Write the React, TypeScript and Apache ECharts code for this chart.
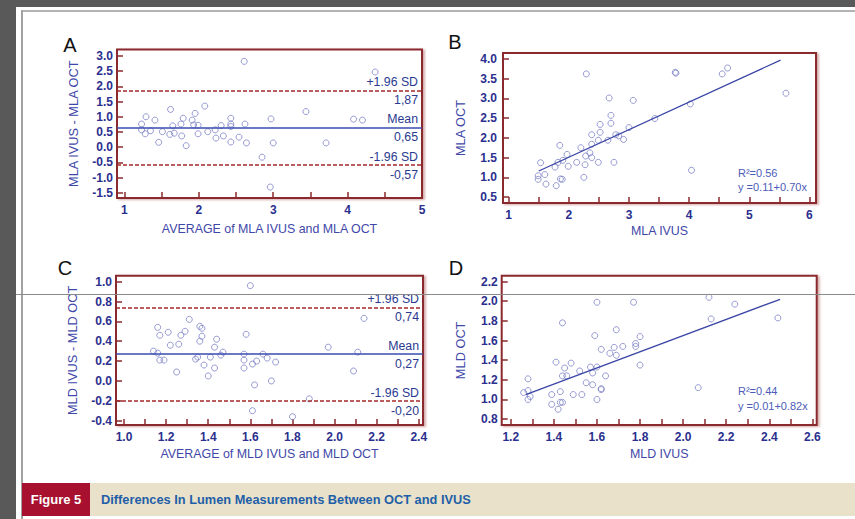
import React, { useEffect, useRef } from "react";
import * as echarts from "echarts";

// ---------- Panel A: Bland-Altman MLA ----------
const aPoints: [number, number][] = [
  [2.61, 2.82], [4.37, 2.47], [1.23, 0.76], [1.29, 1.0], [1.23, 0.57], [1.28, 0.44],
  [1.35, 0.54], [1.41, 0.89], [1.46, 0.16], [1.51, 0.51], [1.62, 1.24], [1.61, 0.42],
  [1.65, 0.7], [1.67, 0.46], [1.76, 0.76], [1.77, 0.37], [1.79, 0.95], [1.83, 0.05],
  [1.91, 0.89], [1.93, 0.73], [1.95, 1.11], [1.99, 0.72], [1.99, 0.44], [2.08, 1.35],
  [2.12, 0.51], [2.22, 0.57], [2.23, 0.3], [2.3, 0.71], [2.33, 0.37], [2.43, 0.95],
  [2.43, 0.76], [2.43, 0.68], [2.43, 0.17], [2.54, 0.33], [2.62, 0.76], [2.64, 0.14],
  [2.85, -0.33], [2.97, 0.93], [2.96, -1.31], [3.0, 0.14], [3.44, 1.17], [3.71, 0.14],
  [4.08, 0.92], [4.2, 0.89],
];
const aLimits = [1.87, 0.65, -0.57]; // +1.96 SD, mean, -1.96 SD
const aXTicks = [1, 1.5, 2, 2.5, 3, 3.5, 4, 4.5, 5];
const aXLabels = [1, 2, 3, 4, 5];
const aYTicks = [-1.5, -1, -0.5, 0, 0.5, 1, 1.5, 2, 2.5, 3];

// ---------- Panel B: MLA correlation ----------
const bPoints: [number, number][] = [
  [2.29, 3.62], [3.77, 3.66], [3.78, 3.64], [4.55, 3.62], [4.64, 3.77], [5.61, 3.13],
  [2.67, 3.01], [3.07, 2.95], [4.02, 2.86], [2.7, 2.57], [2.7, 2.37], [3.43, 2.49],
  [2.52, 2.34], [3.0, 2.26], [2.38, 2.08], [2.52, 2.14], [2.78, 2.08], [2.83, 2.05],
  [2.49, 1.94], [2.65, 1.94], [2.91, 1.96], [2.38, 1.84], [1.85, 1.81], [2.2, 1.75],
  [1.97, 1.58], [2.35, 1.62], [2.28, 1.54], [2.38, 1.5], [1.9, 1.43], [1.82, 1.38],
  [1.53, 1.37], [2.13, 1.38], [2.49, 1.38], [2.75, 1.38], [2.27, 1.32], [1.77, 1.26],
  [1.99, 1.28], [1.49, 1.04], [1.6, 1.07], [1.49, 0.95], [1.86, 0.96], [1.89, 0.95],
  [2.25, 1.0], [1.62, 0.83], [1.79, 0.79], [4.04, 1.18],
];
const bFit: [number, number][] = [[1.5, 1.16], [5.52, 3.97]];
const bStats = ["R²=0.56", "y =0.11+0.70x"];
const bXTicks = [1, 1.5, 2, 2.5, 3, 3.5, 4, 4.5, 5, 5.5, 6];
const bXLabels = [1, 2, 3, 4, 5, 6];
const bYTicks = [0.5, 1, 1.5, 2, 2.5, 3, 3.5, 4];

// ---------- Panel C: Bland-Altman MLD ----------
const cPoints: [number, number][] = [
  [1.6, 0.96], [1.16, 0.54], [1.17, 0.46], [1.21, 0.49], [1.14, 0.3], [1.16, 0.28],
  [1.17, 0.21], [1.19, 0.21], [1.22, 0.36], [1.25, 0.09], [1.26, 0.37], [1.27, 0.46],
  [1.29, 0.5], [1.31, 0.62], [1.36, 0.55], [1.37, 0.53], [1.37, 0.45], [1.36, 0.4],
  [1.34, 0.22], [1.35, 0.24], [1.38, 0.16], [1.4, 0.05], [1.41, 0.24], [1.43, 0.34],
  [1.43, 0.13], [1.44, 0.42], [1.46, 0.26], [1.47, 0.29], [1.57, 0.27], [1.57, 0.21],
  [1.57, 0.13], [1.58, 0.47], [1.61, 0.17], [1.63, 0.2], [1.62, -0.04], [1.61, -0.3],
  [1.66, 0.27], [1.68, 0.23], [1.72, 0.19], [1.7, 0.0], [1.8, -0.36], [1.88, -0.18],
  [1.97, 0.34], [2.09, 0.1], [2.11, 0.29], [2.14, 0.63],
];
const cLimits = [0.74, 0.27, -0.2];
const cXTicks = [1.0, 1.1, 1.2, 1.3, 1.4, 1.5, 1.6, 1.7, 1.8, 1.9, 2.0, 2.1, 2.2, 2.3, 2.4];
const cXLabels = [1.0, 1.2, 1.4, 1.6, 1.8, 2.0, 2.2, 2.4];
const cYTicks = [-0.4, -0.2, 0, 0.2, 0.4, 0.6, 0.8, 1.0];

// ---------- Panel D: MLD correlation ----------
const dPoints: [number, number][] = [
  [1.6, 1.99], [1.77, 1.99], [2.12, 2.04], [2.24, 1.97], [2.44, 1.83], [2.13, 1.82],
  [1.44, 1.78], [1.69, 1.71], [1.59, 1.65], [1.8, 1.64], [1.78, 1.57], [1.78, 1.54],
  [1.72, 1.54], [1.68, 1.53], [1.62, 1.51], [1.66, 1.47], [1.69, 1.45], [1.41, 1.38],
  [1.48, 1.37], [1.8, 1.35], [1.57, 1.33], [1.6, 1.33], [1.45, 1.32], [1.52, 1.29],
  [1.58, 1.27], [1.44, 1.24], [1.46, 1.24], [1.64, 1.24], [1.28, 1.21], [1.55, 1.17],
  [1.58, 1.15], [1.62, 1.11], [1.62, 1.1], [2.07, 1.12], [1.28, 1.09], [1.26, 1.07],
  [1.43, 1.08], [1.39, 1.05], [1.49, 1.05], [1.53, 1.05], [1.29, 1.03], [1.28, 1.0],
  [1.6, 1.0], [1.43, 0.97], [1.44, 0.97], [1.39, 0.95], [1.42, 0.9],
];
const dFit: [number, number][] = [[1.27, 1.05], [2.45, 2.02]];
const dStats = ["R²=0.44", "y =0.01+0.82x"];
const dXTicks = [1.2, 1.3, 1.4, 1.5, 1.6, 1.7, 1.8, 1.9, 2.0, 2.1, 2.2, 2.3, 2.4, 2.5, 2.6];
const dXLabels = [1.2, 1.4, 1.6, 1.8, 2.0, 2.2, 2.4, 2.6];
const dYTicks = [0.8, 1.0, 1.2, 1.4, 1.6, 1.8, 2.0, 2.2];

const panelLetters = ["A", "B", "C", "D"];
const axisNames = [
  ["AVERAGE of MLA IVUS and MLA OCT", "MLA IVUS - MLA OCT"],
  ["MLA IVUS", "MLA OCT"],
  ["AVERAGE of MLD IVUS and MLD OCT", "MLD IVUS - MLD OCT"],
  ["MLD IVUS", "MLD OCT"],
];
const limitNames = ["+1.96 SD", "Mean", "-1.96 SD"];
const figureLabel = "Figure 5";
const figureTitle = "Differences In Lumen Measurements Between OCT and IVUS";

const FONT = "'Liberation Sans', Arial, sans-serif";
const NARROW = "'Liberation Sans Narrow', 'Arial Narrow', 'Liberation Sans', sans-serif";
const FRAME = "#8b2a2e";
const TICKTXT = "#2b2f8e";
const NAMETXT = "#3f48a8";
const POINT = "#7c82c6";
const MEAN = "#3a4db0";
const SD = "#a3282a";
const FIT = "#3b46a6";

function App() {
  const ref = useRef<HTMLDivElement>(null);
  useEffect(() => {
    if (!ref.current) return;
    const chart = echarts.init(ref.current, null, { renderer: "svg" });

    const grids = [
      { left: 117, top: 49.5, width: 305, height: 148.5 },
      { left: 503, top: 53, width: 313, height: 150 },
      { left: 116, top: 275.7, width: 307, height: 149.3 },
      { left: 501.7, top: 275.7, width: 315, height: 149.3 },
    ].map((g) => ({
      ...g,
      show: true,
      backgroundColor: "#ffffff",
      borderColor: FRAME,
      borderWidth: 2,
      shadowColor: "rgba(160,70,70,0.45)",
      shadowOffsetX: 2,
      shadowOffsetY: 1,
      shadowBlur: 2,
      containLabel: false,
      outerBoundsMode: "none",
    }));

    const xRanges = [[0.9, 5.0], [0.905, 6.11], [0.962, 2.42], [1.158, 2.62]];
    const yRanges = [[-1.67, 3.21], [0.35, 4.15], [-0.444, 1.06], [0.74, 2.26]];
    const xTicks = [aXTicks, bXTicks, cXTicks, dXTicks];
    const xLabels = [aXLabels, bXLabels, cXLabels, dXLabels];
    const yTicks = [aYTicks, bYTicks, cYTicks, dYTicks];
    const xDec = [0, 0, 1, 1];
    const xNameGap = [25, 22, 23, 23];
    const yNameGap = [37, 36, 37, 35];
    const yLabelMargin = [4, 6, 4, 4];

    const tickStyle = { color: FRAME, width: 1.5 };
    const xAxis = [0, 1, 2, 3].map((i) => ({
      type: "value",
      gridIndex: i,
      position: "bottom",
      min: xRanges[i][0],
      max: xRanges[i][1],
      name: axisNames[i][0],
      nameLocation: "middle",
      nameGap: xNameGap[i],
      nameTextStyle: { color: NAMETXT, fontSize: 12.4, fontFamily: FONT },
      axisLine: { show: false, onZero: false },
      splitLine: { show: false },
      axisTick: { show: true, inside: true, length: 6, lineStyle: tickStyle, customValues: xTicks[i] },
      axisLabel: {
        show: true,
        customValues: xLabels[i],
        margin: 6,
        color: TICKTXT,
        fontSize: 12,
        fontWeight: "bold",
        fontFamily: FONT,
        formatter: (v: number) => v.toFixed(xDec[i]),
      },
    }));
    const yAxis = [0, 1, 2, 3].map((i) => ({
      type: "value",
      gridIndex: i,
      position: "left",
      min: yRanges[i][0],
      max: yRanges[i][1],
      name: axisNames[i][1],
      nameLocation: "middle",
      nameGap: yNameGap[i],
      nameTextStyle: { color: NAMETXT, fontSize: 12.8, fontFamily: FONT },
      axisLine: { show: false, onZero: false },
      splitLine: { show: false },
      axisTick: { show: true, inside: true, length: 6, lineStyle: tickStyle, customValues: yTicks[i] },
      axisLabel: {
        show: true,
        customValues: yTicks[i],
        margin: yLabelMargin[i],
        color: TICKTXT,
        fontSize: 12,
        fontWeight: "bold",
        fontFamily: FONT,
        formatter: (v: number) => v.toFixed(1),
      },
    }));

    const scatterBase = (data: [number, number][], i: number) => ({
      type: "scatter",
      xAxisIndex: i,
      yAxisIndex: i,
      data,
      symbol: "circle",
      symbolSize: 6,
      itemStyle: { color: "rgba(0,0,0,0)", borderColor: POINT, borderWidth: 1 },
      silent: true,
    });

    const limitLines = (limits: number[]) => {
      const items: any[] = [];
      limits.forEach((v, k) => {
        const ls =
          k === 1
            ? { color: MEAN, width: 1.6, type: "solid" }
            : { color: SD, width: 1.5, type: [4, 2] };
        const txt = { color: "#2a3a8f", fontSize: 12.3, fontFamily: FONT };
        items.push({
          yAxis: v,
          lineStyle: ls,
          label: { show: true, position: "insideEndTop", formatter: limitNames[k], distance: [4, 2], ...txt },
        });
        items.push({
          yAxis: v,
          lineStyle: { color: "rgba(0,0,0,0)", width: 0 },
          label: {
            show: true,
            position: "insideEndBottom",
            formatter: v.toFixed(2).replace(".", ","),
            distance: [4, 4],
            ...txt,
          },
        });
      });
      return { symbol: "none", silent: true, animation: false, data: items };
    };

    const fitLine = (data: [number, number][], i: number) => ({
      type: "line",
      xAxisIndex: i,
      yAxisIndex: i,
      data,
      symbol: "none",
      lineStyle: { color: FIT, width: 1.3 },
      silent: true,
    });

    const series: any[] = [
      { ...scatterBase(aPoints, 0), markLine: limitLines(aLimits) },
      scatterBase(bPoints, 1),
      fitLine(bFit, 1),
      { ...scatterBase(cPoints, 2), markLine: limitLines(cLimits) },
      scatterBase(dPoints, 3),
      fitLine(dFit, 3),
    ];

    const letterPos = [[70, 44.5], [455, 42], [65, 267.5], [456, 267.5]];
    const statPos = [[738, 173], [738, 187], [738, 391], [738, 406]];
    const stats = [...bStats, ...dStats];

    const graphic: any[] = [
      { type: "rect", shape: { x: 0, y: 0, width: 855, height: 7 }, style: { fill: "#595959" } },
      { type: "rect", shape: { x: 0, y: 0, width: 16, height: 519 }, style: { fill: "#595959" } },
      { type: "line", shape: { x1: 21, y1: 11, x2: 855, y2: 11 }, style: { stroke: "#b4b4b4", lineWidth: 2 } },
      { type: "line", shape: { x1: 22, y1: 10, x2: 22, y2: 519 }, style: { stroke: "#a2a2a2", lineWidth: 2 } },
      { type: "rect", shape: { x: 22, y: 483, width: 68, height: 33 }, style: { fill: "#a8102f" } },
      { type: "rect", shape: { x: 90, y: 483, width: 765, height: 33 }, style: { fill: "#e9e1c9" } },
      {
        type: "text",
        x: 56,
        y: 499.5,
        style: {
          text: figureLabel,
          fill: "#ffffff",
          font: `bold 13px ${NARROW}`,
          align: "center",
          verticalAlign: "middle",
        },
      },
      {
        type: "text",
        x: 101,
        y: 499.5,
        style: {
          text: figureTitle,
          fill: "#1f5fa8",
          font: `bold 12.8px ${NARROW}`,
          align: "left",
          verticalAlign: "middle",
        },
      },
      ...panelLetters.map((t, i) => ({
        type: "text",
        x: letterPos[i][0],
        y: letterPos[i][1],
        style: {
          text: t,
          fill: "#111111",
          font: `20px ${FONT}`,
          align: "center",
          verticalAlign: "middle",
        },
      })),
      ...stats.map((t, i) => ({
        type: "text",
        x: statPos[i][0],
        y: statPos[i][1],
        z: 100,
        style: {
          text: t,
          fill: "#4c5cb8",
          font: `11px ${FONT}`,
          align: "left",
          verticalAlign: "middle",
        },
      })),
      {
        type: "line",
        z: 100,
        shape: { x1: 16, y1: 294.5, x2: 855, y2: 294.5 },
        style: { stroke: "#8a8a8a", lineWidth: 1 },
      },
    ];

    chart.setOption({
      animation: false,
      backgroundColor: "#ffffff",
      grid: grids,
      xAxis,
      yAxis,
      series,
      graphic,
    });
    return () => chart.dispose();
  }, []);

  return (
    <div
      ref={ref}
      style={{ position: "fixed", left: 0, top: 0, width: 855, height: 519 }}
    />
  );
}

export default App;
